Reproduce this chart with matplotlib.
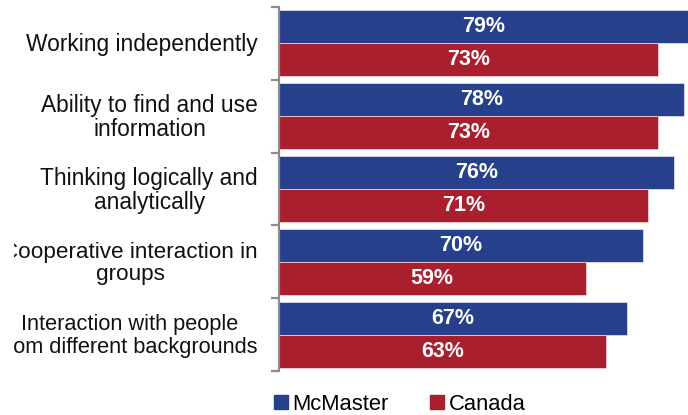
import matplotlib
matplotlib.use("Agg")
import matplotlib.pyplot as plt
from matplotlib.transforms import Bbox, blended_transform_factory
from matplotlib.lines import Line2D

plt.rcParams['font.family'] = ['Liberation Sans', 'DejaVu Sans']

categories = [
    "Working independently",
    "Ability to find and use\ninformation",
    "Thinking logically and\nanalytically",
    "Cooperative interaction in\ngroups",
    "Interaction with people\nfrom different backgrounds",
]
label_sizes = [16.4, 16.4, 16.4, 16.2, 15.7]
mcmaster = [79, 78, 76, 70, 67]
canada = [73, 73, 71, 59, 63]
series_names = ["McMaster", "Canada"]

BLUE = "#27408B"
RED = "#AA1F2E"

W, H = 688, 415
fig = plt.figure(figsize=(W / 100, H / 100), dpi=100)
ax = fig.add_axes([278.5 / W, 1 - 371 / H, (W - 278.5) / W, (371 - 7) / H])

n = len(categories)
pos = list(range(n))
bh = 0.453
off = 0.227

ax.barh([p - off for p in pos], mcmaster, height=bh, color=BLUE,
        edgecolor="#d9dcea", linewidth=0.6)
ax.barh([p + off for p in pos], canada, height=bh, color=RED,
        edgecolor="#eed0d4", linewidth=0.6)

for p, v in zip(pos, mcmaster):
    ax.text(v / 2, p - off, f"{v}%", ha="center", va="center",
            color="white", fontsize=15.5, fontweight="bold")
for p, v in zip(pos, canada):
    ax.text(v / 2, p + off, f"{v}%", ha="center", va="center",
            color="white", fontsize=15.5, fontweight="bold")

ax.set_xlim(0, (W - 278.5) / 5.205)
ax.set_ylim(n - 0.5, -0.5)

for s in ["top", "right", "bottom"]:
    ax.spines[s].set_visible(False)
ax.spines["left"].set_color("#8c8c8c")
ax.spines["left"].set_linewidth(1.6)
ax.set_xticks([])
ax.set_yticks([p - 0.5 for p in range(n + 1)])
ax.set_yticklabels([])
ax.tick_params(axis="y", direction="out", length=6, width=1.6, color="#8c8c8c")

# Category labels, trimmed at the left margin
trans = blended_transform_factory(ax.transAxes, ax.transData)
clip = Bbox.from_extents(13.5, 0, W, H)
for p, c, fs in zip(pos, categories, label_sizes):
    t = fig.text(-20.5 / (W - 278.5), p + 0.02, c, transform=trans, ha="right",
                 va="center", multialignment="center", fontsize=fs,
                 color="#111111", linespacing=1.07)
    t.set_clip_box(clip)
    t.set_clip_on(True)

handles = [
    Line2D([], [], marker="s", linestyle="none", markersize=9.5,
           markerfacecolor=BLUE, markeredgecolor=BLUE),
    Line2D([], [], marker="s", linestyle="none", markersize=9.5,
           markerfacecolor=RED, markeredgecolor=RED),
]
fig.legend(handles, series_names, loc="center left",
           bbox_to_anchor=(274 / W, 1 - 404 / H), ncol=2, frameon=False,
           fontsize=15.8, handlelength=0.6, handletextpad=0.25,
           columnspacing=1.9, borderpad=0, borderaxespad=0)

fig.savefig("out.png", dpi=100)
